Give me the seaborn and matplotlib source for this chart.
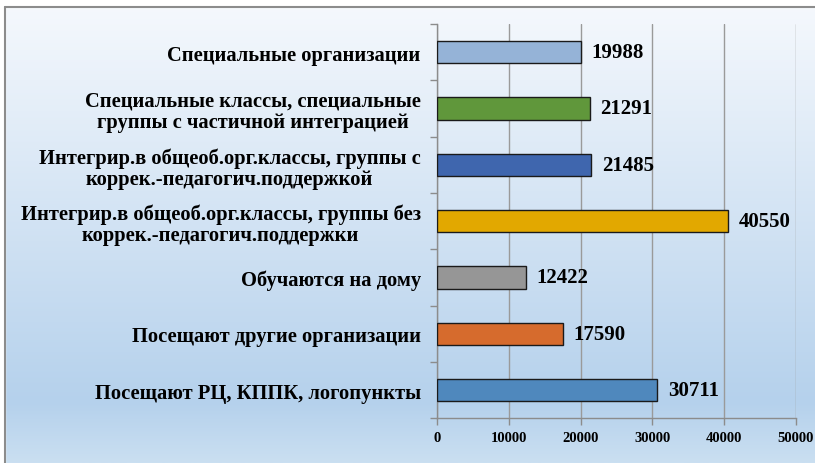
import numpy as np
import pandas as pd
import matplotlib
matplotlib.use("Agg")
import matplotlib.pyplot as plt
import seaborn as sns
from matplotlib.colors import LinearSegmentedColormap
from matplotlib.lines import Line2D

# data, top to bottom as in the chart
categories = [
    "Специальные организации",
    "Специальные классы, специальные\nгруппы с частичной интеграцией",
    "Интегрир.в общеоб.орг.классы, группы с\nкоррек.-педагогич.поддержкой",
    "Интегрир.в общеоб.орг.классы, группы без\nкоррек.-педагогич.поддержки",
    "Обучаются на дому",
    "Посещают другие организации",
    "Посещают РЦ, КППК, логопункты",
]
values = [19988, 21291, 21485, 40550, 12422, 17590, 30711]
bar_colors = ["#95B3D7", "#60973B", "#3F66AE", "#E2A800", "#969696", "#D66B2D", "#4F88BD"]
x_ticks = [0, 10000, 20000, 30000, 40000, 50000]

df = pd.DataFrame({"cat": categories, "val": values})

sns.set_theme(style="white")
plt.rcParams["font.family"] = ["Liberation Serif", "DejaVu Serif"]
plt.rcParams["text.color"] = "black"
plt.rcParams["xtick.color"] = "black"
plt.rcParams["ytick.color"] = "black"

fig = plt.figure(figsize=(8.15, 4.64), dpi=100)

# background gradient (white-ish top -> light blue bottom)
bg = fig.add_axes([0, 0, 1, 1], zorder=-10)
cmap = LinearSegmentedColormap.from_list(
    "bg", [(0.0, "#F6F9FD"), (0.87, "#B5D1EC"), (1.0, "#CADFF1")])
grad = np.linspace(0, 1, 256).reshape(-1, 1)
bg.imshow(grad, aspect="auto", cmap=cmap, extent=[0, 1, 0, 1], origin="upper")
# white strip above the border and left of it
bg.axhspan(1 - 8 / 464, 1, color="white", zorder=2)
bg.axvspan(0, 5 / 815, color="white", zorder=2)
bg.set_xlim(0, 1)
bg.set_ylim(0, 1)
bg.axis("off")
fig.add_artist(Line2D([5 / 815, 1], [1 - 8 / 464, 1 - 8 / 464], color="#8C8C8C", lw=1.5))
fig.add_artist(Line2D([5 / 815, 5 / 815], [0, 1 - 8 / 464], color="#8C8C8C", lw=1.5))

ax = fig.add_axes([437.3 / 815, 1 - 419.3 / 464, 358.5 / 815, (419.3 - 25) / 464])
ax.patch.set_alpha(0)

sns.barplot(data=df, x="val", y="cat", hue="cat", palette=bar_colors, legend=False,
            width=0.4, edgecolor="#1A1A1A", linewidth=1, saturation=1, ax=ax, zorder=3)

for i, v in enumerate(values):
    ax.text(v + 1450, i, str(v), va="center", ha="left", fontsize=15,
            fontweight="bold", color="black", zorder=4)

ax.set_xlim(0, 50000)
ax.set_ylim(6.5, -0.5)
ax.set_xticks(x_ticks)
ax.set_xticklabels([str(t) for t in x_ticks], fontsize=10.5, fontweight="bold")
ax.set_xlabel("")
ax.set_ylabel("")
ax.set_yticks(range(len(categories)))
ax.set_yticklabels(categories, fontsize=14.8, fontweight="bold", multialignment="center",
                   linespacing=1.08)
ax.set_yticks(np.arange(-0.5, 7, 1), minor=True)
ax.tick_params(axis="y", which="major", length=0, pad=12)
ax.tick_params(axis="y", which="minor", length=5, color="#8C8C8C", width=1, left=True)
ax.tick_params(axis="x", which="major", length=5, color="#8C8C8C", width=1, bottom=True, pad=4)

ax.grid(axis="x", color="#9A9A9A", lw=1, zorder=0)
ax.set_axisbelow(True)
for s in ["top", "right"]:
    ax.spines[s].set_visible(False)
for s in ["left", "bottom"]:
    ax.spines[s].set_color("#8C8C8C")
    ax.spines[s].set_linewidth(1)

fig.savefig("out.png", dpi=100)
